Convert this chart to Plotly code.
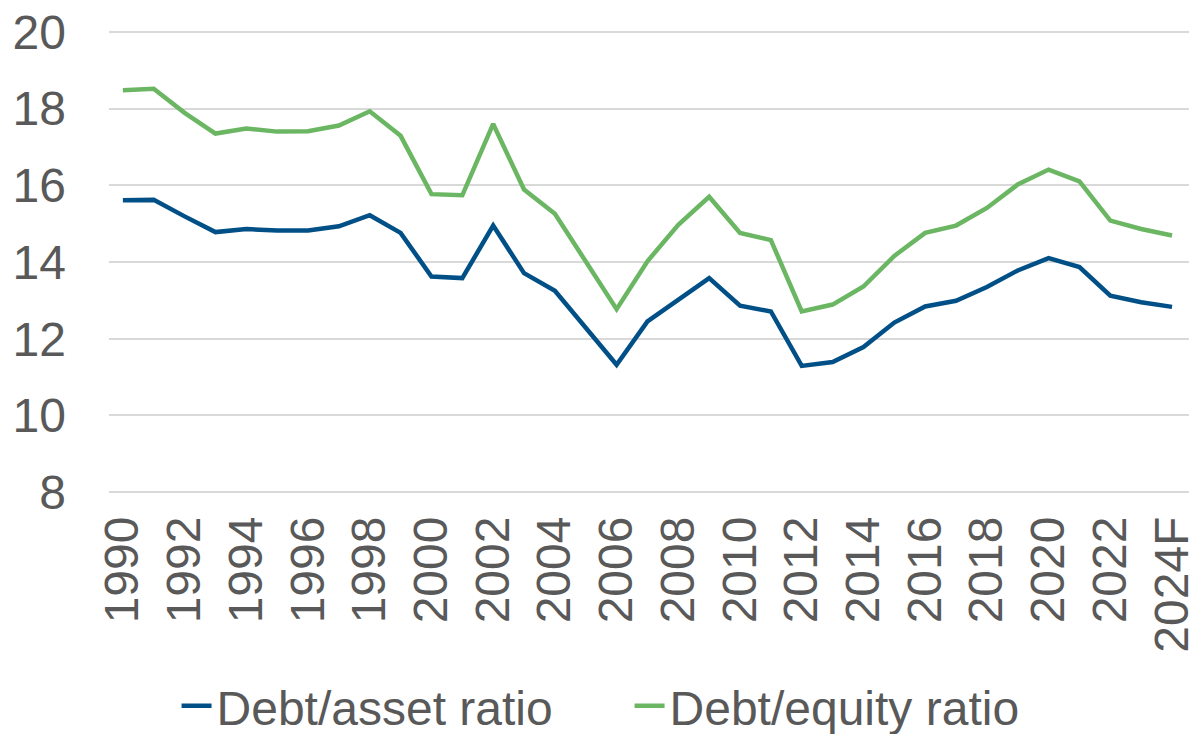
import plotly.graph_objects as go

years = [str(y) for y in range(1990, 2024)] + ["2024F"]

debt_asset = [15.61, 15.62, 15.19, 14.78, 14.86, 14.82, 14.82, 14.93, 15.22, 14.76,
              13.62, 13.58, 14.95, 13.71, 13.25, 12.28, 11.32, 12.45, 13.03, 13.58,
              12.86, 12.71, 11.29, 11.39, 11.78, 12.42, 12.84, 12.99, 13.35, 13.78,
              14.10, 13.87, 13.12, 12.95, 12.83]

debt_equity = [18.48, 18.52, 17.89, 17.35, 17.48, 17.40, 17.41, 17.56, 17.93, 17.29,
               15.77, 15.74, 17.60, 15.89, 15.26, 14.02, 12.77, 14.02, 14.97, 15.70,
               14.76, 14.57, 12.71, 12.89, 13.36, 14.16, 14.76, 14.95, 15.41, 16.02,
               16.41, 16.10, 15.08, 14.86, 14.69]

tick_labels = years[::2]

font = "Liberation Sans, Arial, sans-serif"
grey = "#595959"

fig = go.Figure()
fig.add_trace(go.Scatter(x=years, y=debt_asset, mode="lines", name="Debt/asset ratio",
                         line=dict(color="#005087", width=4.5)))
fig.add_trace(go.Scatter(x=years, y=debt_equity, mode="lines", name="Debt/equity ratio",
                         line=dict(color="#6BB662", width=4.5)))

fig.update_layout(
    width=1197, height=734,
    margin=dict(l=109, r=8, t=30, b=240),
    paper_bgcolor="white", plot_bgcolor="white",
    font=dict(family=font, size=48, color=grey),
    showlegend=True,
    legend=dict(orientation="h", xref="container", yref="container",
                x=0.1475, xanchor="left", y=0.038, yanchor="middle",
                entrywidth=408, font=dict(size=48, color=grey)),
    xaxis=dict(type="category", range=[-0.45, 34.55], tickmode="array",
               tickvals=tick_labels, ticktext=tick_labels, tickangle=-90,
               showgrid=False, showline=False, zeroline=False, ticklabelstandoff=12,
               automargin=False, ticklabeloverflow="allow"),
    yaxis=dict(range=[7.95, 20.05], tickvals=[8, 10, 12, 14, 16, 18, 20],
               showgrid=True, gridcolor="#D9D9D9", gridwidth=1.5,
               zeroline=False, showline=False, ticklabelstandoff=42, automargin=False,
               ticklabeloverflow="allow"),
)

# drop the browser's default 8px body margin so the figure fills the window
fig.write_html("out.html", config={"displayModeBar": False},
               post_script="document.body.style.margin = '0';")
